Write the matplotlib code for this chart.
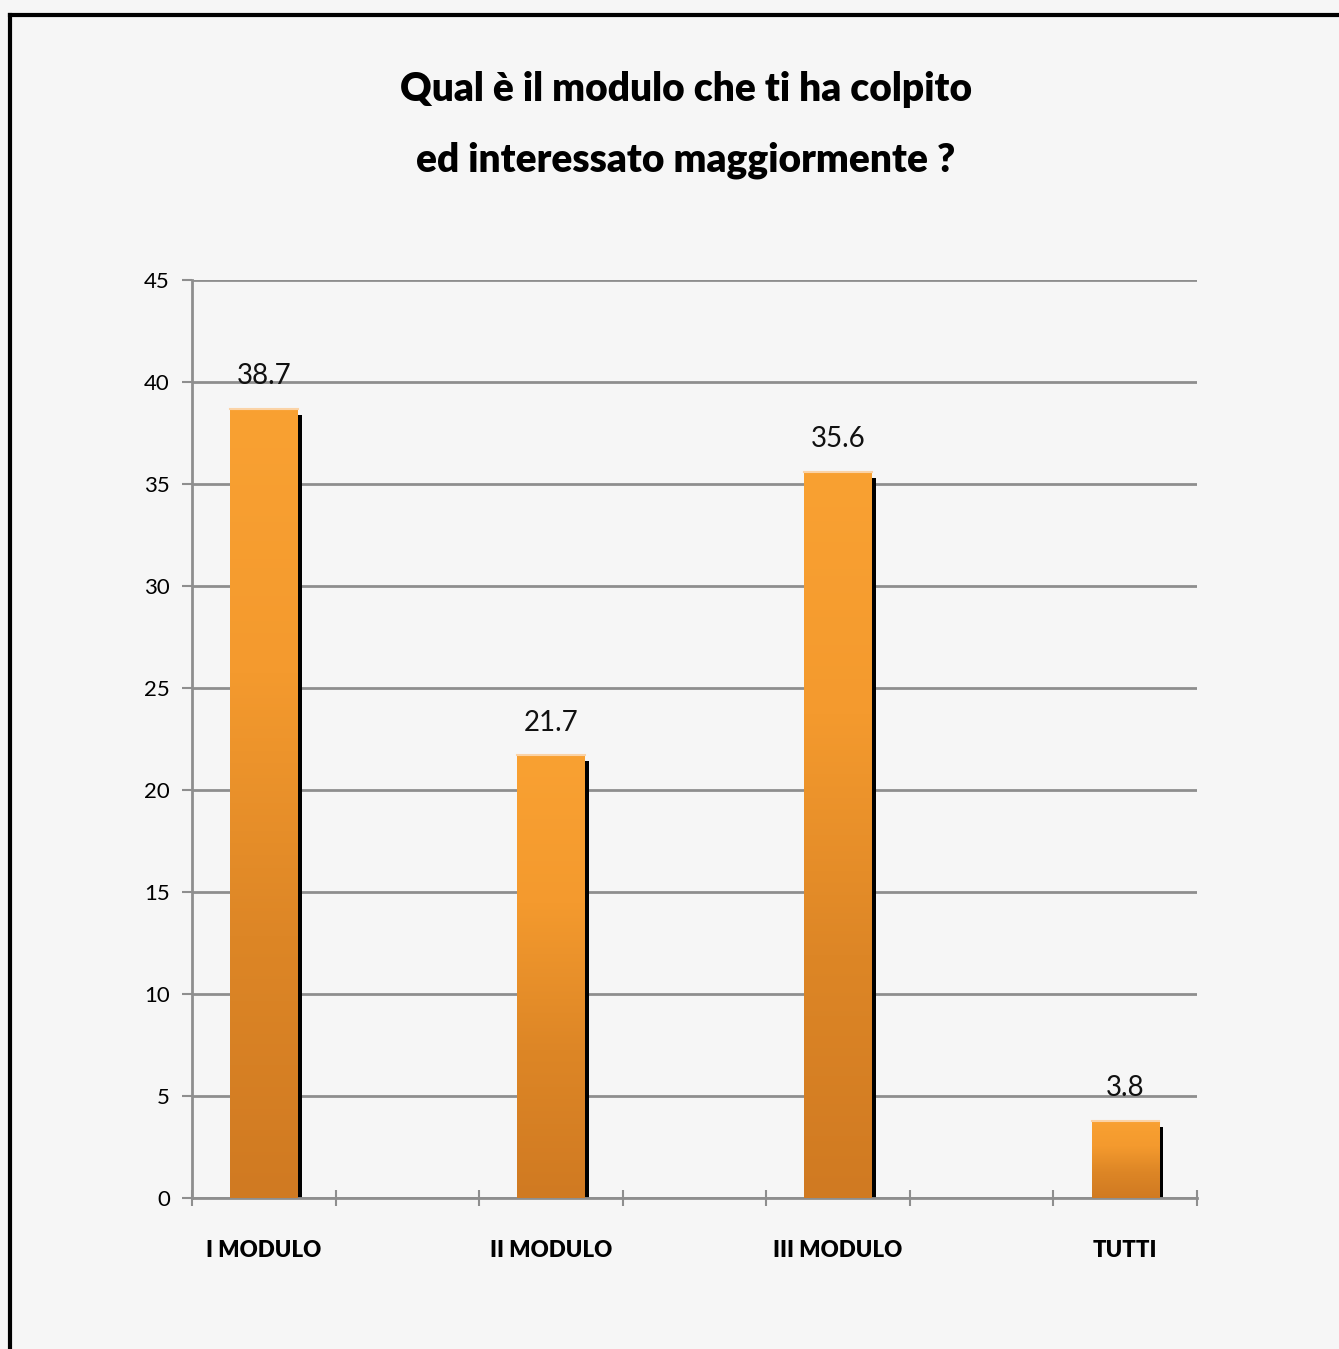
import numpy as np
import matplotlib.pyplot as plt
import matplotlib.transforms as mtransforms
from matplotlib.colors import LinearSegmentedColormap
from matplotlib.lines import Line2D

categories = ['I MODULO', 'II MODULO', 'III MODULO', 'TUTTI']
values = [38.7, 21.7, 35.6, 3.8]
slots = [0, 2, 4, 6]  # the chart keeps empty slots between the categories

plt.rcParams['font.family'] = ['Lato', 'DejaVu Sans']

bg = '#f6f6f6'
grid_col = '#8e8e8e'

fig = plt.figure(figsize=(13.39, 13.49), dpi=100, facecolor=bg)
ax = fig.add_axes([0.1434, 0.1119, 0.7506, 0.6805], facecolor=bg)

ax.set_xlim(-0.5, 6.5)
ax.set_ylim(0, 45)

# shadow behind each bar, shifted right/down a few pixels
shadow_tr = mtransforms.offset_copy(ax.transData, fig, x=4, y=-6, units='dots')
ax.bar(slots, values, width=0.47, color='black', transform=shadow_tr, zorder=2)

bars = ax.bar(slots, values, width=0.47, color='none', zorder=3)
cmap = LinearSegmentedColormap.from_list('og', ['#d07a22', '#dd8626', '#f49a2e', '#f9a132'])
grad = np.linspace(0, 1, 256).reshape(-1, 1)
for rect in bars:
    x0, w, h = rect.get_x(), rect.get_width(), rect.get_height()
    im = ax.imshow(grad, cmap=cmap, origin='lower', aspect='auto',
                   extent=(x0, x0 + w, 0, h), zorder=3)
    im.set_clip_path(rect)
    ax.plot([x0, x0 + w], [h, h], color='#fbd3a6', lw=1.5, zorder=4)

for s, v in zip(slots, values):
    ax.annotate(f'{v}', (s, v), xytext=(0, 14), textcoords='offset points',
                ha='center', va='bottom', fontsize=20, color='#111111', zorder=5)

ax.set_yticks(np.arange(0, 46, 5))
ax.yaxis.grid(True, color=grid_col, lw=2)
ax.set_axisbelow(True)
ax.tick_params(axis='y', length=7, width=1.5, color=grid_col, labelsize=16, pad=9)

ax.set_xticks(slots)
ax.set_xticklabels(categories, fontsize=16, fontweight='heavy')
ax.tick_params(axis='x', length=0, pad=30)
ax.set_xticks(np.arange(-0.5, 7, 1), minor=True)
ax.tick_params(axis='x', which='minor', length=12, width=1.5, color=grid_col, direction='inout')

for side in ['top', 'right']:
    ax.spines[side].set_visible(False)
for side in ['left', 'bottom']:
    ax.spines[side].set_color(grid_col)
    ax.spines[side].set_linewidth(2)

fig.text(0.512, 0.934, 'Qual è il modulo che ti ha colpito', ha='center', va='center',
         fontsize=28, fontweight='heavy')
fig.text(0.512, 0.881, 'ed interessato maggiormente ?', ha='center', va='center',
         fontsize=28, fontweight='heavy')

# frame of the original slide (only top and left visible)
top_y = 1 - 15 / 1349
left_x = 10 / 1339
fig.add_artist(Line2D([left_x, 1], [top_y, top_y], color='black', lw=3))
fig.add_artist(Line2D([left_x, left_x], [0, top_y], color='black', lw=3))

fig.savefig('out.png', dpi=100, facecolor=bg)
